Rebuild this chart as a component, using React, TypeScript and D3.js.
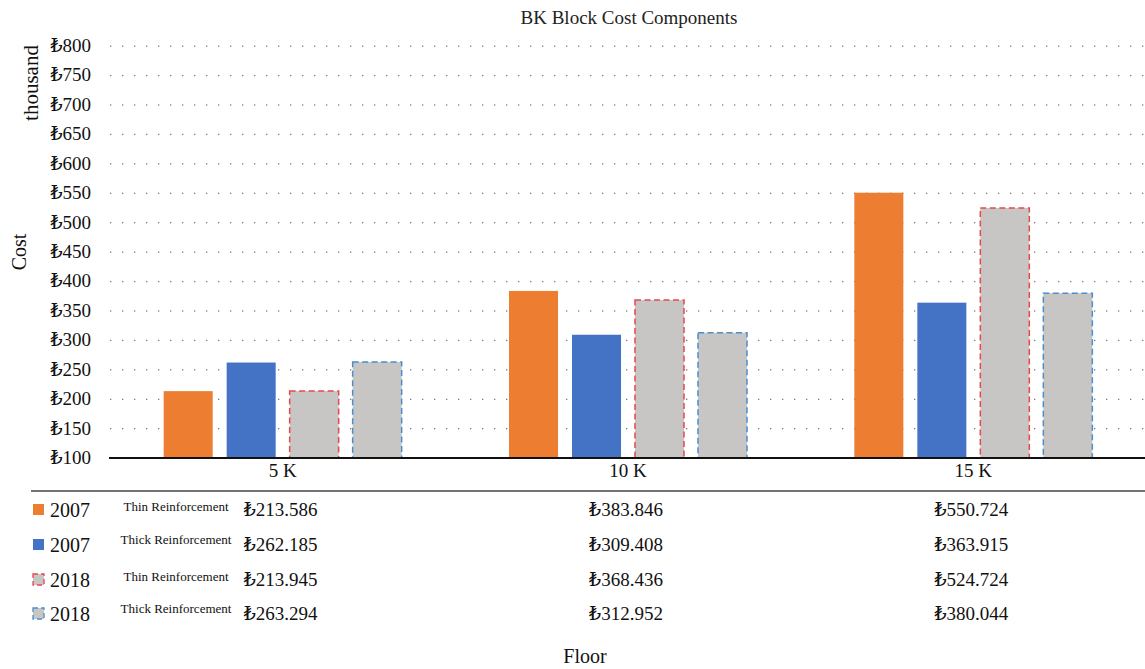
import React from "react";
import * as d3 from "d3";

const categories = ["5 K", "10 K", "15 K"];
const seriesYears = ["2007", "2007", "2018", "2018"];
const seriesTypes = ["Thin Reinforcement", "Thick Reinforcement", "Thin Reinforcement", "Thick Reinforcement"];
const thin2007 = [213.586, 383.846, 550.724];
const thick2007 = [262.185, 309.408, 363.915];
const thin2018 = [213.945, 368.436, 524.724];
const thick2018 = [263.294, 312.952, 380.044];
const yTicks = [100, 150, 200, 250, 300, 350, 400, 450, 500, 550, 600, 650, 700, 750, 800];

const seriesValues = [thin2007, thick2007, thin2018, thick2018];
const fills = ["#ed7d31", "#4472c4", "#c7c6c4", "#c7c6c4"];
const strokes = [null, null, "#e8474f", "#4a8fcc"];

const W = 1145, H = 669;
const FONT = "'Liberation Serif', 'DejaVu Serif', serif";
const fmt = (v: number) => "₺" + v.toFixed(3);

export default function App() {
  const x0 = d3.scaleBand<string>().domain(categories).range([109, 1145]).padding(0);
  const x1 = d3.scaleBand<number>().domain([0, 1, 2, 3]).range([0, 238]).paddingInner(0.222);
  const y = d3.scaleLinear().domain([100, 800]).range([458, 46]);
  const rowsY = [510, 545, 580, 614];
  const gridX = d3.range(110, 1145, 12);

  return (
    <svg width={W} height={H} style={{ position: "absolute", left: 0, top: 0, background: "#fff" }} fontFamily={FONT}>
      <text x={629} y={24} textAnchor="middle" fontSize={19} fill="#222">BK Block Cost Components</text>
      {yTicks.map((t) => (
        <g key={t}>
          {t > 100 &&
            gridX.map((gx) => (
              <rect key={gx} x={gx} y={y(t) - 0.5} width={1.3} height={1.3} fill="#777" />
            ))}
          <text x={91} y={y(t) + 6} textAnchor="end" fontSize={19} fill="#111">{"₺" + t}</text>
        </g>
      ))}
      <text transform={`translate(38,83) rotate(-90)`} textAnchor="middle" fontSize={21} fill="#111">thousand</text>
      <text transform={`translate(26,252) rotate(-90)`} textAnchor="middle" fontSize={20} fill="#111">Cost</text>
      {categories.map((c, ci) => {
        const cx = x0(c)! + x0.bandwidth() / 2;
        return (
          <g key={c}>
            {seriesValues.map((vals, si) => {
              const bx = cx + 1 - 119 + x1(si)!;
              const top = y(vals[ci]);
              return (
                <rect
                  key={si}
                  x={bx}
                  y={top}
                  width={x1.bandwidth()}
                  height={458 - top}
                  fill={fills[si]}
                  stroke={strokes[si] || "none"}
                  strokeWidth={strokes[si] ? 1.5 : 0}
                  strokeDasharray={strokes[si] ? "6,3.5" : undefined}
                />
              );
            })}
            <text x={cx + 1} y={477} textAnchor="middle" fontSize={19} fill="#111">{c}</text>
            {seriesValues.map((vals, si) => (
              <text key={si} x={cx - 1} y={rowsY[si] + 6} textAnchor="middle" fontSize={19} fill="#111">{fmt(vals[ci])}</text>
            ))}
          </g>
        );
      })}
      <line x1={109} x2={1145} y1={458} y2={458} stroke="#111" strokeWidth={2} />
      <line x1={31} x2={1145} y1={491} y2={491} stroke="#444" strokeWidth={1.5} />
      {seriesYears.map((yr, si) => (
        <g key={si}>
          <rect
            x={33}
            y={rowsY[si] - 6}
            width={11}
            height={11}
            fill={fills[si]}
            stroke={strokes[si] || "none"}
            strokeWidth={strokes[si] ? 1.3 : 0}
            strokeDasharray={strokes[si] ? "5,3" : undefined}
          />
          <text x={50} y={rowsY[si] + 7} fontSize={20} fill="#111">{yr}</text>
          <text x={176} y={rowsY[si] - (si % 2 === 0 ? 0 : 2) + 1} textAnchor="middle" fontSize={13} fill="#111">{seriesTypes[si]}</text>
        </g>
      ))}
      <text x={585} y={663} textAnchor="middle" fontSize={20} fill="#111">Floor</text>
    </svg>
  );
}
